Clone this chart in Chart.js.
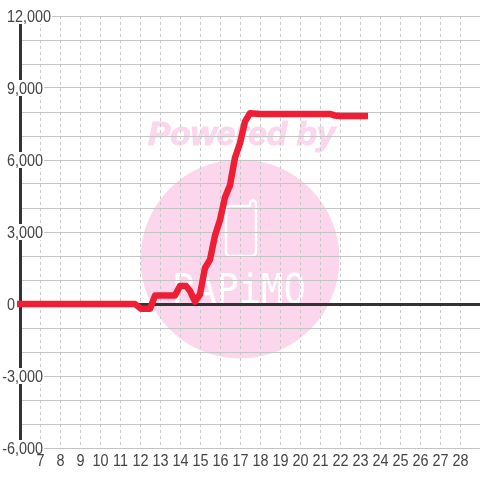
<!DOCTYPE html>
<html>
<head>
<meta charset="utf-8">
<title>chart</title>
<script src="https://cdn.jsdelivr.net/npm/chart.js@4/dist/chart.umd.min.js"></script>
<style>
html, body { margin: 0; padding: 0; background: #fff; }
canvas { display: block; }
</style>
</head>
<body>
<canvas id="chart" width="480" height="480"></canvas>
<script>
var hours = [5.85, 7, 8, 9, 10, 11, 11.75, 12.05, 12.5, 12.75, 13, 13.5, 13.75, 14, 14.3, 14.5, 14.75, 15, 15.25, 15.5, 15.75, 16, 16.25, 16.5, 16.75, 17, 17.25, 17.5, 18, 19, 20, 21, 21.5, 21.75, 22, 23, 23.4];
var values = [0, 0, 0, 0, 0, 0, 0, -200, -200, 350, 350, 350, 350, 750, 750, 550, 100, 400, 1500, 1850, 2850, 3500, 4450, 4950, 6100, 6700, 7600, 7950, 7920, 7920, 7920, 7920, 7920, 7850, 7830, 7830, 7830];
var yTicks = [12000, 9000, 6000, 3000, 0, -3000, -6000];
var yTickLabels = ["12,000", "9,000", "6,000", "3,000", "0", "-3,000", "-6,000"];
var xTicks = [7, 8, 9, 10, 11, 12, 13, 14, 15, 16, 17, 18, 19, 20, 21, 22, 23, 24, 25, 26, 27, 28];

var labelFont = "16px 'Liberation Sans', Arial, sans-serif";
var labelSqueeze = 0.9;	// подписи в оригинале уже обычного шрифта

// водяной знак под сеткой
var watermark = {
	id: "watermark",
	beforeDraw: function (chart) {
		var c = chart.ctx;
		c.save();
		c.fillStyle = "#fbd6ec";
		c.strokeStyle = "#fbd6ec";
		c.beginPath();
		c.arc(240, 259, 99.5, 0, Math.PI * 2);
		c.fill();
		c.font = "italic bold 33.4px 'Liberation Sans', Arial, sans-serif";
		c.textAlign = "left";
		c.textBaseline = "alphabetic";
		c.lineWidth = 1;
		c.fillText("Powered by", 148, 145);
		c.strokeText("Powered by", 148, 145);
		// бутылка
		c.strokeStyle = "#fff";
		c.lineWidth = 2.5;
		c.lineJoin = "round";
		c.beginPath();
		c.moveTo(250, 206);
		c.lineTo(229, 206);
		c.arcTo(226, 206, 226, 209, 3);
		c.lineTo(226, 252);
		c.arcTo(226, 256, 230, 256, 4);
		c.lineTo(252, 256);
		c.arcTo(256, 256, 256, 252, 4);
		c.lineTo(256, 203);
		c.arcTo(256, 200.5, 253, 200.5, 3);
		c.arcTo(250, 200.5, 250, 203, 3);
		c.closePath();
		c.stroke();
		// надпись в круге
		c.translate(172, 303);
		c.scale(1, 1.1);
		c.fillStyle = "#fff";
		c.font = "37px 'DejaVu Sans Mono', monospace";
		c.fillText("PAPiMO", 0, 0);
		c.restore();
	}
};

function squeezedText(c, text, x, y, align) {
	c.save();
	c.translate(x, y);
	c.scale(labelSqueeze, 1);
	c.textAlign = align;
	c.fillText(text, 0, 0);
	c.restore();
}

// оси и подписи поверх сетки, но под линией
var axesAndLabels = {
	id: "axesAndLabels",
	beforeDatasetsDraw: function (chart) {
		var c = chart.ctx;
		var area = chart.chartArea;
		var x = chart.scales.x;
		var y = chart.scales.y;
		c.save();
		c.strokeStyle = "#333";
		c.lineWidth = 3;
		c.beginPath();
		c.moveTo(area.left + 0.5, area.top);
		c.lineTo(area.left + 0.5, area.bottom);
		c.moveTo(area.left, y.getPixelForValue(0) + 0.5);
		c.lineTo(area.right, y.getPixelForValue(0) + 0.5);
		c.stroke();
		c.font = labelFont;
		c.textBaseline = "alphabetic";
		for (var i = 0; i < yTicks.length; i++) {
			var text = yTickLabels[i];
			var w = c.measureText(text).width * labelSqueeze;
			var left = text.charAt(0) == "-" ? 43 - w : 7;
			var py = y.getPixelForValue(yTicks[i]);
			c.fillStyle = "#fff";
			c.fillRect(left - 1, py - 8, w + 2, 16);
			c.fillStyle = "#444";
			squeezedText(c, text, left, py + 6, "left");
		}
		for (var j = 0; j < xTicks.length; j++) {
			squeezedText(c, String(xTicks[j]), x.getPixelForValue(xTicks[j]) + 0.5, 466, "center");
		}
		c.restore();
	}
};

var points = hours.map(function (h, i) { return { x: h, y: values[i] }; });

new Chart(document.getElementById("chart"), {
	type: "line",
	data: {
		datasets: [{
			data: points,
			borderColor: "#ee1f35",
			borderWidth: 6.5,
			pointRadius: 0,
			tension: 0,
			clip: false,
			borderJoinStyle: "round",
			borderCapStyle: "butt"
		}]
	},
	options: {
		responsive: false,
		animation: false,
		layout: { padding: { left: 20, top: 16, right: 0, bottom: 0 } },
		plugins: { legend: { display: false }, tooltip: { enabled: false } },
		scales: {
			x: {
				type: "linear",
				min: 6,
				max: 29,
				afterFit: function (scale) {
					scale.height = 32;
					scale.paddingLeft = 0;
					scale.paddingRight = 0;
				},
				grid: { color: "#c8c8c8", lineWidth: 1, drawTicks: false },
				border: { display: false, dash: [3, 3] },
				ticks: { stepSize: 1, autoSkip: false, display: false }
			},
			y: {
				min: -6000,
				max: 12000,
				afterFit: function (scale) {
					scale.width = 0;
					scale.paddingTop = 0;
					scale.paddingBottom = 0;
				},
				grid: { color: "#c4c4c4", lineWidth: 1, drawTicks: false },
				border: { display: false },
				ticks: { stepSize: 1000, display: false }
			}
		}
	},
	plugins: [watermark, axesAndLabels]
});
</script>
</body>
</html>
